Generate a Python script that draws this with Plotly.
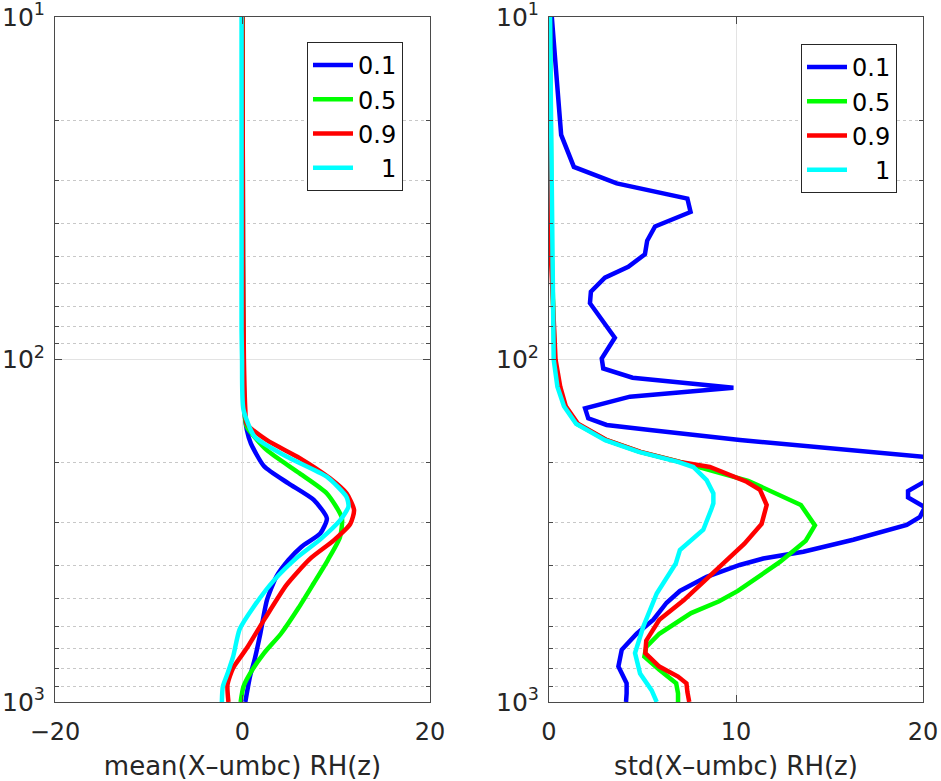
import plotly.graph_objects as go

# ---------------- data ----------------
labels = ["0.1", "0.5", "0.9", "\u2007\u20081"]
colors = ["#0000ff", "#00ff00", "#ff0000", "#00ffff"]

# left panel: mean(X-umbc) RH(z)
mean_p_01 = [10, 50, 100, 140, 160, 176, 205, 230, 257, 291, 322, 352, 385, 431, 505, 632, 750, 843, 1000]
mean_x_01 = [0.0, 0.05, 0.1, 0.2, 0.45, 0.9, 2.3, 4.9, 7.6, 9.0, 8.3, 6.3, 4.9, 3.6, 2.6, 1.9, 1.3, 0.8, 0.3]

mean_p_05 = [10, 50, 100, 140, 157, 184, 215, 246, 290, 330, 385, 450, 530, 632, 720, 826, 902, 1000]
mean_x_05 = [0.0, 0.05, 0.1, 0.2, 0.45, 2.6, 6.1, 9.0, 10.6, 10.4, 9.1, 7.6, 6.0, 4.1, 2.3, 0.8, 0.1, -0.2]

mean_p_09 = [10, 50, 100, 140, 154, 172, 194, 222, 246, 275, 302, 338, 382, 455, 570, 697, 795, 890, 1000]
mean_x_09 = [0.0, 0.05, 0.15, 0.3, 0.45, 2.6, 6.1, 9.3, 11.1, 11.9, 11.5, 9.7, 7.2, 4.7, 2.4, 0.45, -1.0, -1.6, -1.5]

mean_p_1 = [10, 50, 82, 100, 140, 168, 192, 220, 252, 269, 295, 335, 377, 440, 527, 613, 737, 826, 902, 1000]
mean_x_1 = [-0.1, -0.1, -0.1, -0.05, 0.1, 1.3, 4.7, 9.0, 11.1, 11.3, 10.4, 8.3, 5.9, 3.4, 1.2, -0.3, -1.0, -1.6, -2.1, -2.2]

# right panel: std(X-umbc) RH(z)
std_p_01 = [10, 16.7, 22.1, 27.4, 30.6, 33.9, 37.1, 40.9, 45, 49.3, 53.6, 57.7, 63.4, 68.5, 80, 86.4,
            99.3, 106.2, 113, 120.9, 128.4, 138.9, 148.5, 155.3, 160.6, 171.8, 197, 242, 253, 270, 288,
            304, 336, 364, 381, 398, 431, 474, 513, 575, 632, 704, 788, 882, 944, 1000]
std_x_01 = [0.15, 0.5, 0.65, 1.33, 3.62, 7.4, 7.57, 5.67, 5.25, 5.13, 4.24, 2.99, 2.24, 2.19, 3.1, 3.52,
            2.82, 2.9, 4.47, 9.86, 4.33, 1.93, 2.10, 3.08, 5.40, 10.21, 22.1, 19.2, 19.2, 20.1, 19.84,
            19.13, 16.27, 13.6, 11.46, 10.2, 8.43, 7.0, 6.29, 5.58, 4.69, 3.89, 3.71, 4.15, 4.15, 4.12]

std_p_05 = [10, 50, 100, 120, 137, 154, 172, 186, 199, 208, 226, 266, 305, 338, 390, 474, 508, 550, 632,
            690, 737, 805, 882, 944, 1000]
std_x_05 = [0.05, 0.15, 0.3, 0.5, 0.86, 1.48, 3.08, 4.87, 7.0, 8.25, 10.65, 13.47, 14.22, 13.73, 12.35,
            10.1, 9.1, 7.6, 5.9, 5.2, 5.1, 5.9, 6.8, 6.9, 6.9]

std_p_09 = [10, 50, 100, 120, 137, 154, 172, 186, 199, 206, 227.5, 240, 266, 302, 345, 385, 421, 505,
            575, 662, 720, 788, 843, 882, 935, 1000]
std_x_09 = [0.0, 0.1, 0.35, 0.6, 0.9, 1.55, 3.1, 4.9, 7.0, 8.6, 10.57, 11.28, 11.64, 11.37, 10.45, 9.5,
            8.8, 7.2, 5.9, 5.2, 5.15, 5.9, 6.9, 7.35, 7.4, 7.5]

std_p_1 = [10, 50, 100, 120, 137, 154, 172, 186, 199, 206, 225, 246, 263, 272, 314, 360, 394, 482, 603,
           720, 826, 925, 1000]
std_x_1 = [0.05, 0.15, 0.25, 0.45, 0.8, 1.45, 3.0, 4.8, 6.9, 7.72, 8.43, 8.79, 8.79, 8.7, 8.25, 7.0,
           6.78, 5.76, 5.04, 4.6, 4.87, 5.49, 5.76]

mean_series = [(mean_x_01, mean_p_01), (mean_x_05, mean_p_05), (mean_x_09, mean_p_09), (mean_x_1, mean_p_1)]
std_series = [(std_x_01, std_p_01), (std_x_05, std_p_05), (std_x_09, std_p_09), (std_x_1, std_p_1)]

y_major = [10, 100, 1000]
y_major_text = ["10<sup>1</sup>", "10<sup>2</sup>", "10<sup>3</sup>"]
y_minor = [20, 30, 40, 50, 60, 70, 80, 90, 200, 300, 400, 500, 600, 700, 800, 900]
x_left_ticks = [-20, 0, 20]
x_left_text = ["\u221220", "0", "20"]
x_right_ticks = [0, 10, 20]
x_right_text = ["0", "10", "20"]

# ---------------- figure ----------------
FONT = "DejaVu Sans"
TXT = "#262626"
fig = go.Figure()

for i, (xs, ps) in enumerate(mean_series):
    fig.add_trace(go.Scatter(x=xs, y=ps, mode="lines", name=labels[i],
                             line=dict(color=colors[i], width=4.5, shape="spline", smoothing=0.6),
                             xaxis="x", yaxis="y", legend="legend"))
for i, (xs, ps) in enumerate(std_series):
    fig.add_trace(go.Scatter(x=xs, y=ps, mode="lines", name=labels[i],
                             line=dict(color=colors[i], width=4.5),
                             xaxis="x2", yaxis="y2", legend="legend2"))

def xax(domain, rng, tv, tt, title, anchor):
    return dict(domain=domain, range=rng, tickmode="array", tickvals=tv, ticktext=tt,
                showgrid=True, gridcolor="#e3e3e3", gridwidth=1, zeroline=False,
                showline=True, linecolor="#4a4a4a", linewidth=1, mirror="ticks",
                ticks="inside", ticklen=7, tickcolor="#4a4a4a",
                tickfont=dict(family=FONT, size=24, color=TXT),
                ticklabeloverflow="allow", ticklabelstandoff=8, automargin=False,
                title=dict(text=title, font=dict(family=FONT, size=26, color=TXT), standoff=12),
                anchor=anchor, fixedrange=True)

def yax(domain, anchor):
    return dict(domain=domain, type="log", range=[3, 1], tickmode="array",
                tickvals=y_major, ticktext=y_major_text,
                showgrid=True, gridcolor="#e3e3e3", gridwidth=1, zeroline=False,
                showline=True, linecolor="#4a4a4a", linewidth=1, mirror="ticks",
                ticks="inside", ticklen=7, tickcolor="#4a4a4a",
                tickfont=dict(family=FONT, size=25, color=TXT),
                ticklabeloverflow="allow", ticklabelstandoff=4, automargin=False,
                minor=dict(tickmode="array", tickvals=y_minor, showgrid=True, griddash="dot",
                           gridcolor="#c8c8c8", gridwidth=1, ticks="inside", ticklen=4,
                           tickcolor="#4a4a4a"),
                anchor=anchor, fixedrange=True)

ydom = [79 / 781, 1 - 17 / 781]
legend_style = dict(bgcolor="white", bordercolor="#262626", borderwidth=1,
                    font=dict(family=FONT, size=24, color="black"),
                    xanchor="right", yanchor="top", tracegroupgap=0, itemwidth=40)

fig.update_layout(
    width=941, height=781,
    margin=dict(l=0, r=0, t=0, b=0, autoexpand=False),
    paper_bgcolor="white", plot_bgcolor="white",
    xaxis=xax([55 / 941, 430 / 941], [-20, 20], x_left_ticks, x_left_text, "mean(X\u2013umbc) RH(z)", "y"),
    yaxis=yax(ydom, "x"),
    xaxis2=xax([549 / 941, 923 / 941], [0, 20], x_right_ticks, x_right_text, "std(X\u2013umbc) RH(z)", "y2"),
    yaxis2=yax(ydom, "x2"),
    legend=dict(x=403 / 941, y=1 - 42 / 781, **legend_style),
    legend2=dict(x=897 / 941, y=1 - 44 / 781, **legend_style),
)

fig.write_html("out.html")
